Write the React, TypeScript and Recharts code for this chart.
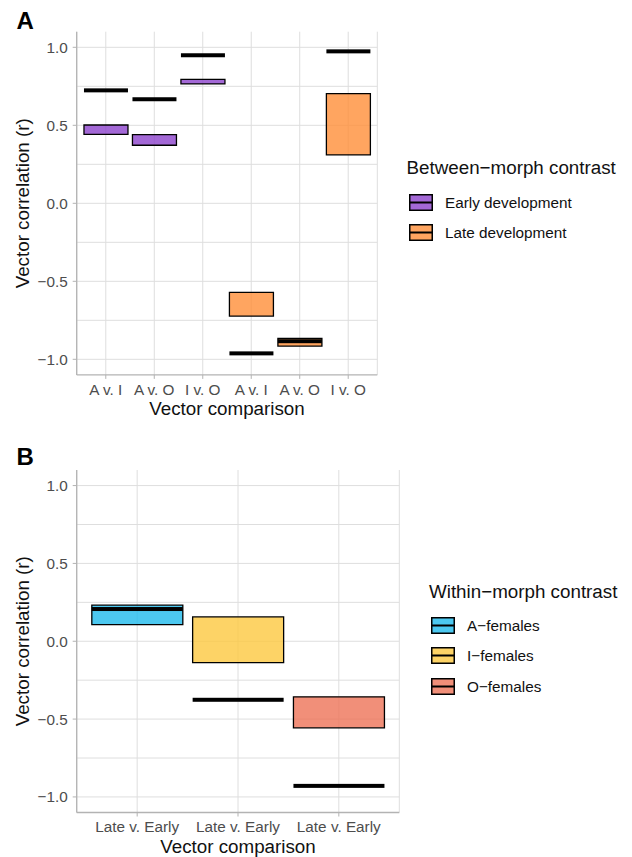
import React from "react";
import {
  ComposedChart,
  Bar,
  Cell,
  XAxis,
  YAxis,
  CartesianGrid,
} from "recharts";

// panel A: between-morph contrasts
const COMPARISONS_A = ["A v. I", "A v. O", "I v. O", "A v. I", "A v. O", "I v. O"];
const STAGE_A = [
  "Early development",
  "Early development",
  "Early development",
  "Late development",
  "Late development",
  "Late development",
];
const LOW_A = [0.442, 0.372, 0.765, -0.723, -0.915, 0.31];
const HIGH_A = [0.502, 0.44, 0.795, -0.571, -0.866, 0.703];
const OBS_A = [0.724, 0.667, 0.949, -0.962, -0.884, 0.974];

// panel B: within-morph contrasts
const COMPARISONS_B = ["Late v. Early", "Late v. Early", "Late v. Early"];
const MORPH_B = ["A\u2212females", "I\u2212females", "O\u2212females"];
const LOW_B = [0.107, -0.137, -0.556];
const HIGH_B = [0.232, 0.156, -0.357];
const OBS_B = [0.207, -0.376, -0.929];

const Y_TICKS = [-1, -0.5, 0, 0.5, 1];
const GRID_Y = [-1, -0.75, -0.5, -0.25, 0, 0.25, 0.5, 0.75, 1];

const STAGE_COLORS: Record<string, string> = {
  "Early development": "#8c42cc",
  "Late development": "#ff8e38",
};
const MORPH_COLORS: Record<string, string> = {
  "A\u2212females": "#1fbaec",
  "I\u2212females": "#fcc840",
  "O\u2212females": "#ee7358",
};

const FONT = "'Liberation Sans', Arial, Helvetica, sans-serif";
const GREY = "#b3b3b3";
const TICK_TEXT = "#4d4d4d";

const rowsA = COMPARISONS_A.map((label, i) => ({
  id: `${STAGE_A[i]}|${label}`,
  label,
  group: STAGE_A[i],
  lo: LOW_A[i],
  hi: HIGH_A[i],
  mid: OBS_A[i],
}));

const rowsB = COMPARISONS_B.map((label, i) => ({
  id: `${MORPH_B[i]}|${label}`,
  label,
  group: MORPH_B[i],
  lo: LOW_B[i],
  hi: HIGH_B[i],
  mid: OBS_B[i],
}));

const fmtY = (v: number) => (v < 0 ? "\u2212" + Math.abs(v).toFixed(1) : v.toFixed(1));
const fmtX = (id: string) => id.split("|")[1];

function MidLine(props: any) {
  const { x, y, width, height } = props;
  return <rect x={x} y={y + height / 2 - 2} width={width} height={4} fill="#000" />;
}

interface PanelProps {
  rows: typeof rowsA;
  colors: Record<string, string>;
  width: number;
  height: number;
  top: number;
  right: number;
  xHeight: number;
  pad: number;
  xLabelOffset: number;
}

function Panel({ rows, colors, width, height, top, right, xHeight, pad, xLabelOffset }: PanelProps) {
  return (
    <ComposedChart
      width={width}
      height={height}
      data={rows}
      margin={{ top, right, bottom: 0, left: 0 }}
      barCategoryGap="5%"
    >
      <CartesianGrid stroke="#dedede" strokeWidth={1} horizontalValues={GRID_Y} />
      <XAxis
        dataKey="id"
        interval={0}
        height={xHeight}
        padding={{ left: pad, right: pad }}
        tickFormatter={fmtX}
        tickSize={4}
        tickMargin={5}
        tickLine={{ stroke: GREY }}
        axisLine={{ stroke: GREY, strokeWidth: 1.3 }}
        tick={{ fill: TICK_TEXT, fontSize: 15.3, fontFamily: FONT }}
        label={{
          value: "Vector comparison",
          position: "insideBottom",
          offset: xLabelOffset,
          style: { fill: "#111", fontSize: 18.8, fontFamily: FONT },
        }}
      />
      <XAxis
        xAxisId="mid"
        dataKey="id"
        orientation="top"
        height={0}
        padding={{ left: pad, right: pad }}
        tick={false}
        tickLine={false}
        axisLine={{ stroke: GREY, strokeWidth: 1.3 }}
      />
      <YAxis
        type="number"
        domain={[-1.1, 1.1]}
        allowDataOverflow
        ticks={Y_TICKS}
        width={76.7}
        tickFormatter={fmtY}
        tickSize={4}
        tickMargin={5}
        tickLine={{ stroke: GREY }}
        axisLine={{ stroke: GREY, strokeWidth: 1.3 }}
        tick={{ fill: TICK_TEXT, fontSize: 15.3, fontFamily: FONT }}
        label={{
          value: "Vector correlation (r)",
          angle: -90,
          position: "insideLeft",
          offset: 22,
          style: { textAnchor: "middle", fill: "#111", fontSize: 18.8, fontFamily: FONT },
        }}
      />
      <YAxis
        yAxisId="edge"
        type="number"
        orientation="right"
        domain={[-1.1, 1.1]}
        width={0}
        tick={false}
        tickLine={false}
        axisLine={{ stroke: GREY, strokeWidth: 1.3 }}
      />
      <Bar
        dataKey={(d: any) => [d.lo, d.hi]}
        stroke="#000"
        strokeWidth={1.3}
        fillOpacity={0.8}
        isAnimationActive={false}
      >
        {rows.map((r) => (
          <Cell key={r.id} fill={colors[r.group]} />
        ))}
      </Bar>
      <Bar
        xAxisId="mid"
        dataKey={(d: any) => [d.mid, d.mid]}
        shape={MidLine}
        isAnimationActive={false}
      />
    </ComposedChart>
  );
}

function LegendKey({ color, x, cy }: { color: string; x: number; cy: number }) {
  return (
    <svg width={24} height={17} style={{ position: "absolute", left: x, top: cy - 8.5 }}>
      <rect x={0.75} y={0.75} width={22.5} height={15.5} fill={color} fillOpacity={0.8} stroke="#000" strokeWidth={1.5} />
      <line x1={0.75} x2={23.25} y1={8.5} y2={8.5} stroke="#000" strokeWidth={2} />
    </svg>
  );
}

interface LegendBoxProps {
  title: string;
  items: string[];
  colors: Record<string, string>;
  titleX: number;
  titleCy: number;
  keyX: number;
  labelX: number;
  keyCys: number[];
}

function LegendBox({ title, items, colors, titleX, titleCy, keyX, labelX, keyCys }: LegendBoxProps) {
  return (
    <>
      <div
        style={{
          position: "absolute",
          left: titleX,
          top: titleCy - 9.2,
          fontSize: 18.8,
          lineHeight: 1,
          color: "#111",
          whiteSpace: "nowrap",
        }}
      >
        {title}
      </div>
      {items.map((it, i) => (
        <React.Fragment key={it}>
          <LegendKey color={colors[it]} x={keyX} cy={keyCys[i]} />
          <div
            style={{
              position: "absolute",
              left: labelX,
              top: keyCys[i] - 7.5,
              fontSize: 15.3,
              lineHeight: 1,
              color: "#111",
              whiteSpace: "nowrap",
            }}
          >
            {it}
          </div>
        </React.Fragment>
      ))}
    </>
  );
}

export default function App() {
  return (
    <div
      style={{
        position: "absolute",
        left: 0,
        top: 0,
        width: 632,
        height: 857,
        overflow: "hidden",
        background: "#fff",
        fontFamily: FONT,
      }}
    >
      <div style={{ position: "absolute", left: 16.5, top: 8.6, fontSize: 24, fontWeight: 700, lineHeight: 1 }}>
        A
      </div>
      <div style={{ position: "absolute", left: 0, top: 0 }}>
        <Panel
          rows={rowsA}
          colors={STAGE_COLORS}
          width={400}
          height={430}
          top={31.7}
          right={22.7}
          xHeight={55.1}
          pad={4.85}
          xLabelOffset={15.5}
        />
      </div>
      <LegendBox
        title={"Between\u2212morph contrast"}
        items={["Early development", "Late development"]}
        colors={STAGE_COLORS}
        titleX={406.5}
        titleCy={168.3}
        keyX={409}
        labelX={445}
        keyCys={[202, 232.5]}
      />

      <div style={{ position: "absolute", left: 16.5, top: 445, fontSize: 24, fontWeight: 700, lineHeight: 1 }}>
        B
      </div>
      <div style={{ position: "absolute", left: 0, top: 440 }}>
        <Panel
          rows={rowsB}
          colors={MORPH_COLORS}
          width={400}
          height={417}
          top={30}
          right={0.7}
          xHeight={44.5}
          pad={10.08}
          xLabelOffset={4.5}
        />
      </div>
      <LegendBox
        title={"Within\u2212morph contrast"}
        items={MORPH_B}
        colors={MORPH_COLORS}
        titleX={429}
        titleCy={591.7}
        keyX={431}
        labelX={467}
        keyCys={[625, 655.5, 686]}
      />
    </div>
  );
}
